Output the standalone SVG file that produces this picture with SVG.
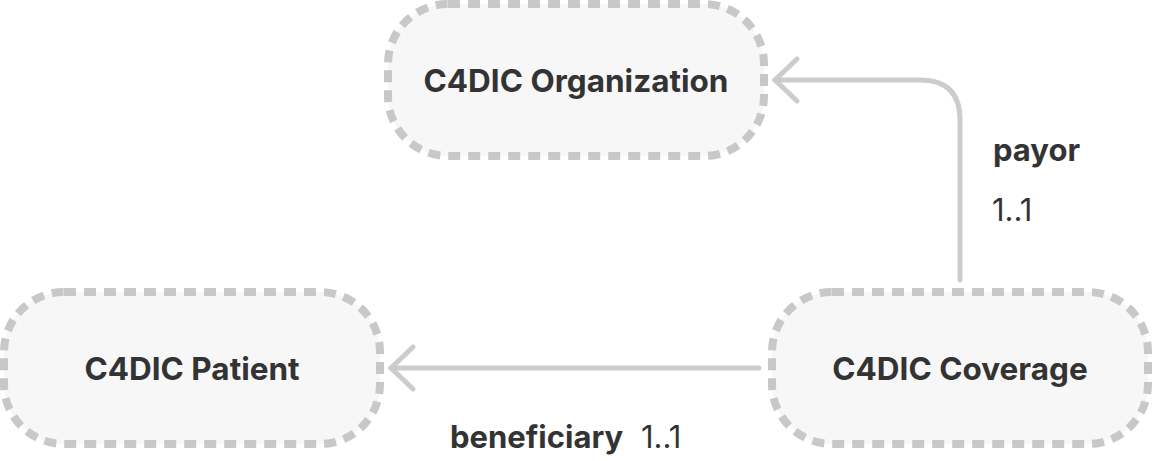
<svg xmlns="http://www.w3.org/2000/svg" width="1152" height="461" viewBox="0 0 1152 461">
<defs>
<style>
.node{fill:#f7f7f7;stroke:#c8c8c8;stroke-width:8;stroke-dasharray:12 8}
.nt{font-family:Inter,"Liberation Sans",sans-serif;font-weight:700;font-size:31.5px;fill:#333333;text-anchor:middle}
.edge{fill:none;stroke:#cccccc;stroke-width:5;stroke-linecap:round;stroke-linejoin:round}
.lb{font-family:Inter,"Liberation Sans",sans-serif;font-weight:700;font-size:31px;fill:#333333}
.card{font-family:Inter,"Liberation Sans",sans-serif;font-weight:400;font-size:31px;fill:#333333}
</style>
</defs>
<rect width="1152" height="461" fill="#ffffff"/>
<g id="node-organization">
<rect class="node" x="388" y="4" width="376" height="152" rx="60"/>
<text class="nt" x="576" y="92">C4DIC Organization</text>
</g>
<g id="node-patient">
<rect class="node" x="4" y="292" width="376" height="152" rx="60"/>
<text class="nt" x="192" y="380">C4DIC Patient</text>
</g>
<g id="node-coverage">
<rect class="node" x="772" y="292" width="376" height="152" rx="60"/>
<text class="nt" x="960" y="380">C4DIC Coverage</text>
</g>
<g id="connectors">
<g id="edge-payor">
<path class="edge" d="M960 280 V120 Q960 80 920 80 H775"/>
<path class="edge" d="M797 59 L775 80 L797 101"/>
<text class="lb" x="993" y="161">payor</text>
<text class="card" x="992" y="221">1..1</text>
</g>
<g id="edge-beneficiary">
<path class="edge" d="M759 368 H391"/>
<path class="edge" d="M413 347 L391 368 L413 389"/>
<text class="lb" x="450" y="448">beneficiary</text>
<text class="card" x="641" y="448">1..1</text>
</g>
</g>
</svg>
